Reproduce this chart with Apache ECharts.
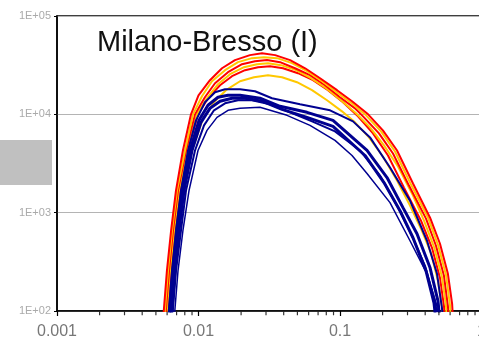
<!DOCTYPE html>
<html>
<head>
<meta charset="utf-8">
<script src="https://cdn.jsdelivr.net/npm/echarts@6/dist/echarts.min.js"></script>
<style>
html,body{margin:0;padding:0;background:#fff;}
#chart{width:479px;height:345px;}
</style>
</head>
<body>
<div id="chart"></div>
<script>
// curves, x and y kept apart
var red1X = [0.00561,0.00598,0.0064,0.00693,0.00776,0.00885,0.01,0.01205,0.01466,0.0181,0.0231,0.0281,0.0348,0.0444,0.0567,0.0723,0.0953,0.1216,0.158,0.201,0.253,0.328,0.433,0.509,0.579,0.62,0.63];
var red1Y = [79,256,655,1675,4290,10000,15600,22250,29400,35600,40000,41900,40000,35600,29400,23300,17600,13600,10000,6870,4290,1980,889,483,239,118,79];
var red2X = [0.0058,0.00619,0.0066,0.00716,0.00816,0.00945,0.0111,0.01308,0.01616,0.0203,0.02508,0.0305,0.03767,0.04808,0.06138,0.07834,0.1,0.1276,0.1478,0.1886,0.2369,0.3073,0.4054,0.4769,0.543,0.579,0.589];
var red2Y = [79,256,655,1675,4290,10000,14910,20720,26800,32380,34730,35600,33930,29400,25000,19770,14910,11510,9321,6398,3999,1886,869,461,228,112,79];
var red3X = [0.00598,0.0064,0.00682,0.0074,0.00843,0.00992,0.01167,0.01419,0.01725,0.02131,0.02634,0.03201,0.03956,0.05049,0.06447,0.08227,0.105,0.134,0.1711,0.2184,0.2833,0.3736,0.4468,0.509,0.543,0.5521];
var red3Y = [79,256,655,1675,4290,10000,14570,19770,24420,28130,30170,30880,29400,26210,22250,17600,13260,9541,6398,3815,1799,829,439,217,112,79];
var yel1X = [0.005705,0.006088,0.006496,0.007047,0.008027,0.009144,0.01058,0.01245,0.0154,0.01902,0.02388,0.02904,0.03588,0.04579,0.05846,0.07461,0.09681,0.1236,0.1527,0.195,0.2447,0.3176,0.4187,0.4927,0.5612,0.599,0.6089];
var yel1Y = [79,256,655,1675,4290,10000,15270,21710,28130,33930,37270,38150,37270,33150,27460,21710,16380,12650,9768,6706,4192,1931,889,471,233,115,79];
var yel2X = [0.005893,0.006289,0.006712,0.00728,0.0083,0.00976,0.01148,0.01373,0.0167,0.02097,0.02591,0.03098,0.03828,0.04887,0.06237,0.07962,0.1016,0.1297,0.163,0.2046,0.257,0.328,0.3923,0.4616,0.5257,0.5612,0.5705];
var yel2Y = [79,256,655,1675,4290,10000,14570,20240,25600,30170,32380,33150,31620,28130,23300,18420,13900,10240,7369,4829,2948,1491,829,450,222,112,79];
var yel3X = [0.00619,0.0066,0.007047,0.00776,0.008995,0.01076,0.01287,0.01564,0.01965,0.02467,0.03098,0.03892,0.04967,0.06342,0.08095,0.1033,0.1276,0.1603,0.201,0.253,0.3124,0.3736,0.4394,0.4927,0.5257,0.5343];
var yel3Y = [79,256,655,1675,4290,9103,13260,17600,21710,23850,25000,23850,21210,17600,13900,10730,8286,5827,3727,2121,1179,687,391,202,110,79];
var blue1X = [0.006088,0.006496,0.006934,0.00752,0.00843,0.0096,0.01111,0.01308,0.0154,0.01965,0.02508,0.03307,0.05216,0.085,0.1236,0.163,0.2256,0.3124,0.412,0.4847,0.5257,0.5343];
var blue1Y = [79,256,655,1675,4290,8686,13260,16770,17990,17990,17170,14570,12650,10990,8483,5827,2878,1326,518,239,107,79];
var blue2X = [0.00619,0.0066,0.007047,0.00765,0.00871,0.01008,0.01167,0.01373,0.01616,0.01965,0.0272,0.03767,0.05846,0.08923,0.1552,0.2149,0.2787,0.35,0.433,0.4927,0.509];
var blue2Y = [79,256,655,1675,4290,8686,12360,14910,15600,15600,14570,12070,10480,8686,4290,2276,1125,611,275,126,79];
var blue3X = [0.0064,0.00682,0.00728,0.0079,0.008995,0.01041,0.01205,0.01419,0.01725,0.02131,0.0281,0.03892,0.05846,0.08923,0.1502,0.2046,0.2655,0.328,0.4054,0.4616,0.4769];
var blue3Y = [79,256,655,1675,4290,8286,11510,13600,14570,14570,13600,11250,9321,7544,3815,2024,1048,556,256,121,79];
var blue4X = [0.006496,0.006934,0.00752,0.00816,0.009448,0.01094,0.01287,0.0154,0.01902,0.02388,0.03201,0.0444,0.06342,0.09219,0.1385,0.1917,0.253,0.3176,0.3988,0.4692,0.4927];
var blue4Y = [79,256,655,1675,4290,7723,10990,12950,13900,13900,12650,10480,8483,6706,4290,2386,1179,611,288,126,79];
var blue5X = [0.006712,0.007163,0.00776,0.00857,0.00992,0.01148,0.01351,0.01616,0.01965,0.0272,0.04222,0.06138,0.09219,0.1216,0.1552,0.2256,0.3124,0.412,0.4847,0.4927];
var blue5Y = [79,256,655,1675,4290,6870,9321,10990,11510,11790,9768,7723,5427,3815,2500,1265,518,239,112,79];

// minor ticks 2..9 of each decade on the x axis (drawn as marks on the bottom edge)
var minorTicks = [0.002,0.003,0.004,0.005,0.006,0.007,0.008,0.009,
	0.02,0.03,0.04,0.05,0.06,0.07,0.08,0.09,
	0.2,0.3,0.4,0.5,0.6,0.7,0.8,0.9];
var yMin = 100, yMax = 100000;

var RED = '#ff0000', YEL = '#ffc800', BLUE = '#000090';

function pairs(xs, ys)
{
	var out = [];
	for (var i = 0; i < xs.length; i++) out.push([xs[i], ys[i]]);
	return out;
}
function curve(xs, ys, color, width)
{
	return {
		type: 'line', data: pairs(xs, ys), showSymbol: false, silent: true,
		lineStyle: {color: color, width: width}, itemStyle: {color: color}
	};
}
//small vertical marks hanging under the x axis
function minorTickSeries()
{
	var data = [];
	for (var i = 0; i < minorTicks.length; i++) data.push([minorTicks[i], yMin]);
	return {
		type: 'scatter', data: data, silent: true, clip: false, z: 5,
		symbol: 'rect', symbolSize: [1.2, 3.5], symbolOffset: [0, 2.5],
		itemStyle: {color: '#000'}
	};
}

var myChart = echarts.init(document.getElementById('chart'));
var option = {
	animation: false,
	backgroundColor: '#fff',
	grid: {left: 57, top: 16, right: -2.5, bottom: 34, outerBoundsMode: 'none', containLabel: false,
		show: true, borderColor: '#000', borderWidth: 1.5},
	graphic: [
		{type: 'rect', shape: {x: 0, y: 140, width: 52, height: 45}, style: {fill: '#c0c0c0'}},
		{type: 'text', left: 97, top: 28, style: {text: 'Milano-Bresso (I)', font: '29px "Liberation Sans"', fill: '#111'}}
	],
	xAxis: {
		type: 'log', min: 0.001, max: 1,
		axisLine: {lineStyle: {color: '#000', width: 1.5}},
		axisTick: {length: 5, lineStyle: {color: '#000', width: 1.2}},
		axisLabel: {fontSize: 16, color: '#777', margin: 13, fontFamily: 'Liberation Sans',
			formatter: function (v) { return String(+(+v).toPrecision(1)); }},
		splitLine: {show: false}
	},
	yAxis: {
		type: 'log', min: yMin, max: yMax,
		axisLine: {show: true, lineStyle: {color: '#000', width: 1.5}},
		axisTick: {show: true, length: 3, lineStyle: {color: '#000'}},
		axisLabel: {fontSize: 11, color: '#aaa', margin: 6, fontFamily: 'Liberation Sans',
			formatter: function (v) { return '1E+' + ('0' + Math.round(Math.log10(v))).slice(-2); }},
		splitLine: {show: true, lineStyle: {color: '#b4b4b4', width: 1}}
	},
	series: [
		curve(yel3X, yel3Y, YEL, 2),
		curve(red3X, red3Y, RED, 2),
		curve(yel2X, yel2Y, YEL, 2),
		curve(red2X, red2Y, RED, 2),
		curve(yel1X, yel1Y, YEL, 2),
		curve(red1X, red1Y, RED, 2),
		curve(blue5X, blue5Y, BLUE, 1.5),
		curve(blue4X, blue4Y, BLUE, 2),
		curve(blue3X, blue3Y, BLUE, 3),
		curve(blue2X, blue2Y, BLUE, 3),
		curve(blue1X, blue1Y, BLUE, 2),
		minorTickSeries()
	]
};
myChart.setOption(option);
</script>
</body>
</html>
